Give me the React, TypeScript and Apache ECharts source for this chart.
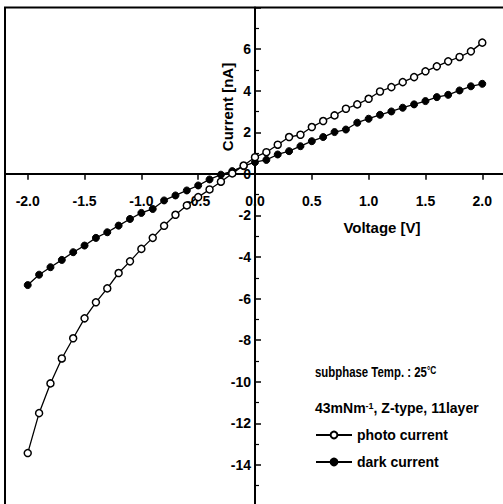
import React, { useEffect, useRef } from "react";
import * as echarts from "echarts";

const voltages = [
  -2.0, -1.9, -1.8, -1.7, -1.6, -1.5, -1.4, -1.3, -1.2, -1.1, -1.0,
  -0.9, -0.8, -0.7, -0.6, -0.5, -0.4, -0.3, -0.2, -0.1, 0.0,
  0.1, 0.2, 0.3, 0.4, 0.5, 0.6, 0.7, 0.8, 0.9, 1.0,
  1.1, 1.2, 1.3, 1.4, 1.5, 1.6, 1.7, 1.8, 1.9, 2.0,
];

const photoCurrent = [
  -13.43, -11.51, -10.08, -8.88, -7.91, -6.95, -6.18, -5.51, -4.77, -4.21, -3.61,
  -3.08, -2.5, -1.97, -1.52, -1.12, -0.75, -0.38, 0.02, 0.4, 0.8,
  1.04, 1.4, 1.77, 1.88, 2.25, 2.54, 2.81, 3.13, 3.34, 3.61,
  3.96, 4.17, 4.41, 4.65, 4.93, 5.17, 5.41, 5.62, 5.89, 6.31,
];

const darkCurrent = [
  -5.35, -4.85, -4.49, -4.14, -3.77, -3.45, -3.08, -2.81, -2.49, -2.17, -1.88,
  -1.69, -1.28, -1.04, -0.8, -0.56, -0.27, -0.04, 0.13, 0.37, 0.56,
  0.67, 0.93, 1.09, 1.33, 1.57, 1.77, 2.01, 2.13, 2.46, 2.65,
  2.84, 3.0, 3.18, 3.34, 3.5, 3.69, 3.8, 4.01, 4.21, 4.33,
];

const xTickValues = [-2.0, -1.5, -1.0, -0.5, 0.0, 0.5, 1.0, 1.5, 2.0];

const X_MIN = -2.2;
const X_MAX = 2.2;
const Y_MIN = -16;
const Y_MAX = 8;

const FONT = "'Liberation Sans', Arial, sans-serif";

export default function App() {
  const ref = useRef<HTMLDivElement>(null);

  useEffect(() => {
    if (!ref.current) return;
    const chart = echarts.init(ref.current, null, { renderer: "svg" });
    const photoData = voltages.map((v, i) => [v, photoCurrent[i]]);
    const darkData = voltages.map((v, i) => [v, darkCurrent[i]]);

    const W = 503;
    const H = 504;
    const gLeft = 5;
    const gRight = -2;
    const gTop = 7.5;
    const gBottom = -2.5;
    const gW = W - gLeft - gRight;
    const gH = H - gTop - gBottom;
    // shift axes so they cross at the origin
    const xAxisOffset = -((0 - Y_MIN) / (Y_MAX - Y_MIN)) * gH;
    const yAxisOffset = -((0 - X_MIN) / (X_MAX - X_MIN)) * gW;

    chart.setOption({
      animation: false,
      backgroundColor: "#fff",
      textStyle: { fontFamily: FONT, color: "#000" },
      grid: {
        left: gLeft,
        right: gRight,
        top: gTop,
        bottom: gBottom,
        containLabel: false,
        outerBoundsMode: "none",
        show: true,
        borderColor: "#000",
        borderWidth: 2,
        backgroundColor: "transparent",
      },
      xAxis: {
        type: "value",
        min: X_MIN,
        max: X_MAX,
        position: "bottom",
        offset: xAxisOffset,
        axisLine: { onZero: false, lineStyle: { color: "#000", width: 2 } },
        axisTick: {
          show: true,
          inside: false,
          length: 6,
          lineStyle: { color: "#000", width: 1.5 },
          customValues: xTickValues,
        },
        axisLabel: {
          customValues: xTickValues,
          formatter: (v: number) => v.toFixed(1),
          fontSize: 14,
          fontWeight: "bold",
          fontFamily: FONT,
          color: "#000",
          margin: 20,
        },
        splitLine: { show: false },
      },
      yAxis: {
        type: "value",
        min: Y_MIN,
        max: Y_MAX,
        interval: 2,
        position: "left",
        offset: yAxisOffset,
        axisLine: { onZero: false, lineStyle: { color: "#000", width: 2 } },
        axisTick: {
          show: true,
          inside: true,
          length: 6,
          lineStyle: { color: "#000", width: 1.5 },
        },
        minorTick: {
          show: true,
          splitNumber: 2,
          length: 4,
          lineStyle: { color: "#000", width: 1.2 },
        },
        axisLabel: {
          formatter: (v: number) => (v === Y_MIN || v === Y_MAX ? "" : String(v)),
          fontSize: 14,
          fontWeight: "bold",
          fontFamily: FONT,
          color: "#000",
          margin: 4,
        },
        splitLine: { show: false },
      },
      legend: {
        orient: "vertical",
        left: 315,
        top: 428,
        itemWidth: 36,
        itemHeight: 8.5,
        itemGap: 13,
        padding: 0,
        textStyle: { fontSize: 14, fontWeight: "bold", fontFamily: FONT, color: "#000" },
        data: ["photo current", "dark current"],
      },
      graphic: [
        {
          type: "text",
          x: 382,
          y: 227,
          style: {
            text: "Voltage [V]",
            x: 0,
            y: 0,
            align: "center",
            verticalAlign: "middle",
            fontSize: 15,
            fontWeight: "bold",
            fontFamily: FONT,
            fill: "#000",
          },
        },
        {
          type: "text",
          x: 227,
          y: 107,
          rotation: Math.PI / 2,
          style: {
            text: "Current [nA]",
            x: 0,
            y: 0,
            align: "center",
            verticalAlign: "middle",
            fontSize: 15,
            fontWeight: "bold",
            fontFamily: FONT,
            fill: "#000",
          },
        },
        {
          type: "text",
          x: 315,
          y: 372,
          scaleX: 0.76,
          scaleY: 1,
          style: {
            text: "subphase Temp. : 25{sup|°C}",
            x: 0,
            y: 0,
            align: "left",
            verticalAlign: "middle",
            fontSize: 15,
            fontWeight: "bold",
            fontFamily: FONT,
            fill: "#000",
            rich: {
              sup: {
                fontSize: 11,
                fontWeight: "bold",
                fontFamily: FONT,
                fill: "#000",
                verticalAlign: "top",
                padding: [0, 0, 4, 0],
              },
            },
          },
        },
        {
          type: "text",
          x: 315,
          y: 408,
          style: {
            text: "43mNm{sup|-1}, Z-type, 11layer",
            x: 0,
            y: 0,
            align: "left",
            verticalAlign: "middle",
            fontSize: 14,
            fontWeight: "bold",
            fontFamily: FONT,
            fill: "#000",
            rich: {
              sup: {
                fontSize: 9,
                fontWeight: "bold",
                fontFamily: FONT,
                fill: "#000",
                verticalAlign: "top",
              },
            },
          },
        },
      ],
      series: [
        {
          name: "photo current",
          type: "line",
          data: photoData,
          symbol: "circle",
          symbolSize: 7,
          lineStyle: { color: "#000", width: 1.3 },
          itemStyle: { color: "#fff", borderColor: "#000", borderWidth: 1.5 },
          z: 3,
        },
        {
          name: "dark current",
          type: "line",
          data: darkData,
          symbol: "circle",
          symbolSize: 7,
          lineStyle: { color: "#000", width: 1.3 },
          itemStyle: { color: "#000", borderColor: "#000", borderWidth: 1 },
          z: 2,
        },
      ],
    });

    return () => chart.dispose();
  }, []);

  return (
    <div
      ref={ref}
      style={{ position: "fixed", left: 0, top: 0, width: 503, height: 504 }}
    />
  );
}
